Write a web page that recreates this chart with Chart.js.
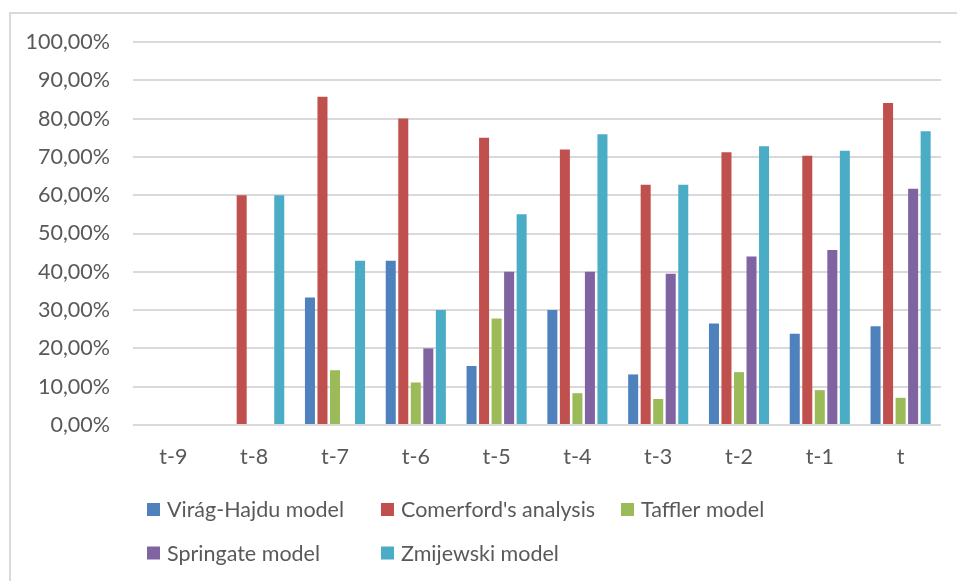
<!DOCTYPE html>
<html lang="en">
<head>
  <meta charset="UTF-8" />
  <title>Models</title>
  <script src="https://cdn.jsdelivr.net/npm/chart.js@4.4.1/dist/chart.umd.min.js"></script>
  <style>
    body { margin: 0; background: #fff; overflow: hidden; }
    #frame {
      position: absolute; left: 9px; top: 12px; width: 1000px; height: 1000px;
      border: 2px solid #d9d9d9; box-sizing: border-box;
    }
    #wrap { position: absolute; left: 0; top: 0; width: 957px; height: 581px; }
  </style>
</head>
<body>
  <div id="frame"></div>
  <div id="wrap"><canvas id="chart" width="957" height="581"></canvas></div>

  <script>
    // periods
    var periods = ["t-9", "t-8", "t-7", "t-6", "t-5", "t-4", "t-3", "t-2", "t-1", "t"];

    // values in percent
    var viragHajdu  = [0, 0, 33.3, 42.9, 15.4, 30.0, 13.2, 26.5, 23.8, 25.8];
    var comerford   = [0, 60.0, 85.7, 80.0, 75.0, 71.9, 62.7, 71.2, 70.3, 84.1];
    var taffler     = [0, 0, 14.3, 11.1, 27.8, 8.3, 6.8, 13.8, 9.1, 7.1];
    var springate   = [0, 0, 0, 20.0, 40.0, 40.0, 39.5, 44.0, 45.7, 61.7];
    var zmijewski   = [0, 60.0, 42.9, 30.0, 55.0, 75.9, 62.7, 72.8, 71.6, 76.7];

    var seriesNames = ["Virág-Hajdu model", "Comerford's analysis", "Taffler model", "Springate model", "Zmijewski model"];
    var seriesColors = ["#4f81bd", "#c0504d", "#9bbb59", "#8064a2", "#4bacc6"];
    var seriesData = [viragHajdu, comerford, taffler, springate, zmijewski];

    var textColor = "#595959";
    var fontFamily = "Lato, 'Open Sans', sans-serif";
    var fontSize = 21.5;

    // legend drawn in a 3 column grid like the excel one
    var gridLegend = {
      id: "gridLegend",
      afterDraw: function (chart) {
        var ctx = chart.ctx;
        var colX = [147, 381, 621];
        var rowY = [509.5, 553];
        ctx.save();
        ctx.font = fontSize + "px " + fontFamily;
        ctx.textBaseline = "middle";
        ctx.textAlign = "left";
        chart.data.datasets.forEach(function (ds, i) {
          var x = colX[i % 3];
          var y = rowY[Math.floor(i / 3)];
          ctx.fillStyle = ds.backgroundColor;
          ctx.fillRect(x, y - 6.5, 13, 13);
          ctx.fillStyle = textColor;
          ctx.fillText(ds.label, x + 20, y + 1);
        });
        ctx.restore();
      }
    };

    var datasets = [];
    for (var i = 0; i < seriesNames.length; i++) {
      datasets.push({
        label: seriesNames[i],
        data: seriesData[i],
        backgroundColor: seriesColors[i],
        categoryPercentage: 0.775,
        barPercentage: 0.8
      });
    }

    var ctx = document.getElementById("chart").getContext("2d");
    var myChart = new Chart(ctx, {
      type: "bar",
      data: { labels: periods, datasets: datasets },
      plugins: [gridLegend],
      options: {
        responsive: false,
        animation: false,
        layout: { padding: { top: 42, right: 16, bottom: 96, left: 0 } },
        plugins: {
          legend: { display: false },
          tooltip: { enabled: false }
        },
        scales: {
          x: {
            grid: { display: false, drawTicks: false },
            border: { display: false },
            ticks: { color: textColor, font: { family: fontFamily, size: fontSize }, padding: 19, maxRotation: 0 },
            afterFit: function (scale) { scale.height = 60; }
          },
          y: {
            min: 0,
            max: 100,
            grid: { color: "#d9d9d9", lineWidth: 2, drawTicks: false },
            border: { display: false },
            ticks: {
              stepSize: 10,
              padding: 23,
              color: textColor,
              font: { family: fontFamily, size: fontSize },
              callback: function (v) { return v.toFixed(2).replace(".", ",") + "%"; }
            },
            afterFit: function (scale) { scale.width = 133; }
          }
        }
      }
    });
  </script>
</body>
</html>
